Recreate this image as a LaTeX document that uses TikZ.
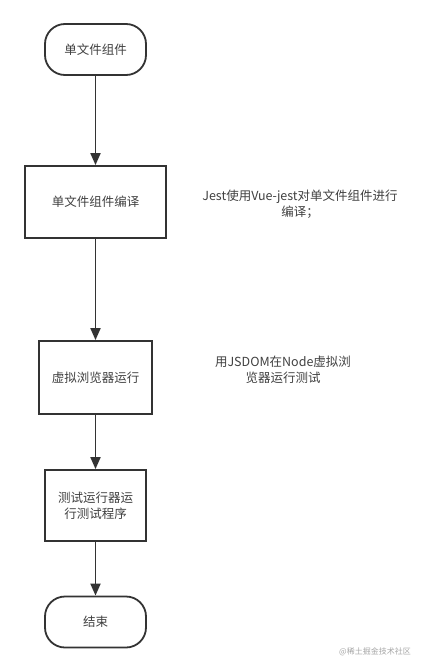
\documentclass[tikz,border=0pt]{standalone}
\usepackage{fontspec}
\newfontfamily\cjk{Noto Sans CJK SC}
\usetikzlibrary{arrows.meta}
\definecolor{linegray}{HTML}{333333}
\definecolor{textgray}{HTML}{404040}
\begin{document}
\begin{tikzpicture}[x=1pt,y=-1pt,font=\cjk\fontsize{12.5}{16}\selectfont,text=textgray,
	>={Triangle[width=10pt,length=12pt]}]
			\useasboundingbox (0,0) rectangle (430,672);
			\begin{scope}[every node/.style={rectangle,rounded corners=20pt,draw=linegray,line width=1.8pt,minimum width=101pt,minimum height=51pt}]
	    		\node (start) at (95.5,49.5) {单文件组件};
	    		\node (end) at (95.5,622) {结束};
			\end{scope}
			\begin{scope}[every node/.style={rectangle,draw=linegray,line width=1.8pt,align=center}]
	    		\node [minimum width=141pt,minimum height=72pt] (compile) at (95.5,202) {单文件组件编译};
	    		\node [minimum width=113pt,minimum height=73pt] (browser) at (95.5,377.5) {虚拟浏览器运行};
	    		\node [minimum width=101pt,minimum height=71pt] (runner) at (95.5,505.5) {测试运行器运\\行测试程序};
			\end{scope}

			\begin{scope}[every edge/.style={draw=linegray,line width=1.8pt}]
				\path [->] (start) edge (compile);
	    		\path [->] (compile) edge (browser);
	    		\path [->] (browser) edge (runner);
	    		\path [->] (runner) edge (end);
			\end{scope}
			\begin{scope}[every node/.style={align=center}]
	    		\node (jestnote) at (300,204) {Jest使用Vue-jest对单文件组件进行\\编译；};
	    		\node (jsdomnote) at (283,370) {用JSDOM在Node虚拟浏\\览器运行测试};
			\end{scope}
			\node [text=black!35,font=\cjk\fontsize{8}{10}\selectfont] (mark) at (375,652) {@稀土掘金技术社区};
		\end{tikzpicture}
\end{document}
